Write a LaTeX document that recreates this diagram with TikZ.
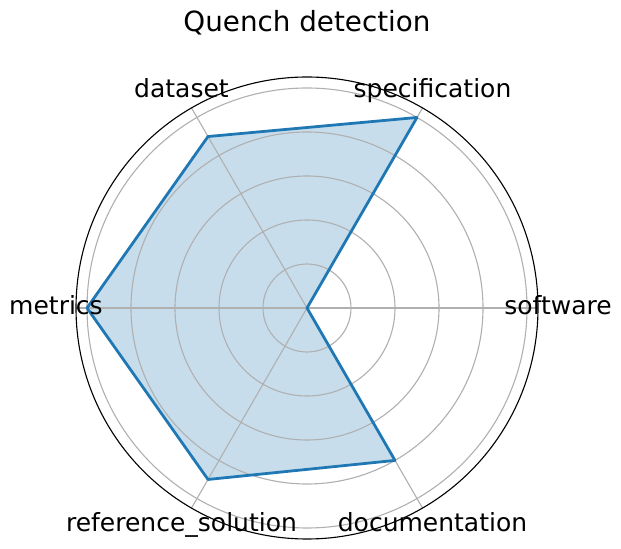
\documentclass[tikz,border=0pt]{standalone}
\usepackage{fontspec}
\setmainfont{DejaVu Sans}
\definecolor{mplblue}{HTML}{1F77B4}
\definecolor{mplfill}{HTML}{C7DDEC}
\definecolor{gridgray}{HTML}{B0B0B0}
\begin{document}
\begin{tikzpicture}[x=0.72bp,y=0.72bp,
  gridline/.style={draw=gridgray, line width=0.8bp},
  spine/.style={draw=black, line width=0.8bp},
  dataline/.style={draw=mplblue, line width=2bp, line join=round},
  datafill/.style={fill=mplfill},
  axlabel/.style={font=\fontsize{18bp}{22bp}\selectfont, anchor=center, inner sep=0pt, text height=13.68bp, text depth=4.25bp},
  titlestyle/.style={font=\fontsize{20bp}{24bp}\selectfont, anchor=base, inner sep=0pt}]
\useasboundingbox (-307,-241) rectangle (314,308);
% centre and data vertices
\coordinate (c) at (0,0);
\coordinate (p0) at (0:0);
\coordinate (p1) at (60:220);
\coordinate (p2) at (120:198);
\coordinate (p3) at (180:220);
\coordinate (p4) at (240:198);
\coordinate (p5) at (300:176);
% fill
\path[datafill] (p0) -- (p1) -- (p2) -- (p3) -- (p4) -- (p5) -- cycle;
% grid circles
\foreach \r in {44,88,132,176,220} {
  \draw[gridline] (c) circle[radius=\r*0.72bp];
}
% spokes
\foreach \a/\n in {0/s0,60/s1,120/s2,180/s3,240/s4,300/s5} {
  \coordinate (\n) at (\a:231);
  \draw[gridline] (c) -- (\n);
}
% data outline
\draw[dataline] (p0) -- (p1) -- (p2) -- (p3) -- (p4) -- (p5) -- cycle;
% outer spine
\draw[spine] (c) circle[radius=231*0.72bp];
% labels
\node[axlabel] (lsoft) at (0:251) {software};
\node[axlabel] (lspec) at (60:251) {specification};
\node[axlabel] (ldata) at (120:251) {dataset};
\node[axlabel] (lmetr) at (180:251) {metrics};
\node[axlabel] (lref) at (240:251) {reference\_solution};
\node[axlabel] (ldoc) at (300:251) {documentation};
% title
\node[titlestyle] (title) at (0,276) {Quench detection};
\end{tikzpicture}
\end{document}
